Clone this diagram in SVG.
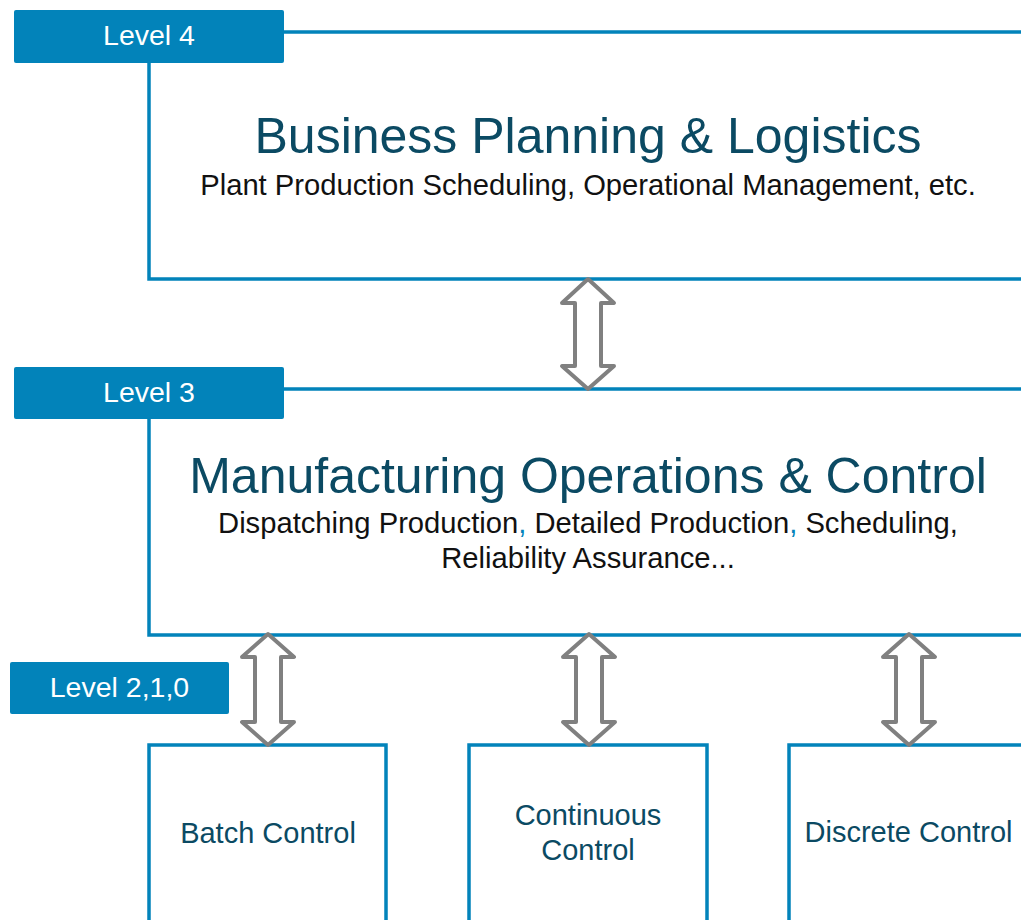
<svg xmlns="http://www.w3.org/2000/svg" width="1021" height="920" viewBox="0 0 1021 920">
<style>
  .frame { fill: none; stroke: #0283BA; stroke-width: 3.5; }
  .lvl { fill: #0283BA; }
  .lvltxt { font-family: "Liberation Sans", Arial, sans-serif; font-size: 28.5px; fill: #ffffff; text-anchor: middle; }
  .title { font-family: "Liberation Sans", Arial, sans-serif; font-size: 50px; fill: #0b4a63; text-anchor: middle; }
  .sub { font-family: "Liberation Sans", Arial, sans-serif; font-size: 29.2px; fill: #111111; text-anchor: middle; }
  .box { font-family: "Liberation Sans", Arial, sans-serif; font-size: 29px; fill: #0b4a63; text-anchor: middle; }
  .comma { fill: #0283BA; }
  .arrow { fill: #ffffff; stroke: #808080; stroke-width: 4; stroke-linejoin: round; }
</style>
<rect width="1021" height="920" fill="#ffffff"/>

<g id="level4">
  <path class="frame" d="M284,32 H1021 M149,63 V279 H1021"/>
  <rect class="lvl" x="14" y="10" width="270" height="53" rx="2"/>
  <text class="lvltxt" x="149" y="45">Level 4</text>
  <text class="title" x="588" y="153">Business Planning &amp; Logistics</text>
  <text class="sub" x="588" y="195">Plant Production Scheduling, Operational Management, etc.</text>
</g>

<g id="level3">
  <path class="frame" d="M284,389 H1021 M149,419 V635 H1021"/>
  <rect class="lvl" x="14" y="367" width="270" height="52" rx="2"/>
  <text class="lvltxt" x="149" y="402">Level 3</text>
  <text class="title" x="588" y="493">Manufacturing Operations &amp; Control</text>
  <text class="sub" x="588" y="533">Dispatching Production<tspan class="comma">,</tspan> Detailed Production<tspan class="comma">,</tspan> Scheduling,</text>
  <text class="sub" x="588" y="568">Reliability Assurance...</text>
</g>

<g id="level210">
  <rect class="lvl" x="10" y="662" width="219" height="52" rx="2"/>
  <text class="lvltxt" x="119.5" y="697">Level 2,1,0</text>
</g>

<g id="batch">
  <path class="frame" d="M149,921 V745 H386 V921"/>
  <text class="box" x="268" y="843">Batch Control</text>
</g>

<g id="continuous">
  <path class="frame" d="M469,921 V745 H707 V921"/>
  <text class="box" x="588" y="825">Continuous</text>
  <text class="box" x="588" y="860">Control</text>
</g>

<g id="discrete">
  <path class="frame" d="M789,921 V745 H1024"/>
  <text class="box" x="908.5" y="842">Discrete Control</text>
</g>

<g id="connectors">
  <polygon class="arrow" points="588,279 614,303 601,303 601,366 614,366 588,389 562,366 575,366 575,303 562,303"/>
  <polygon class="arrow" points="268,634 294,657 281,657 281,722 294,722 268,745 242,722 255,722 255,657 242,657"/>
  <polygon class="arrow" points="589,634 615,657 602,657 602,722 615,722 589,745 563,722 576,722 576,657 563,657"/>
  <polygon class="arrow" points="909,634 935,657 922,657 922,722 935,722 909,745 883,722 896,722 896,657 883,657"/>
</g>
</svg>
